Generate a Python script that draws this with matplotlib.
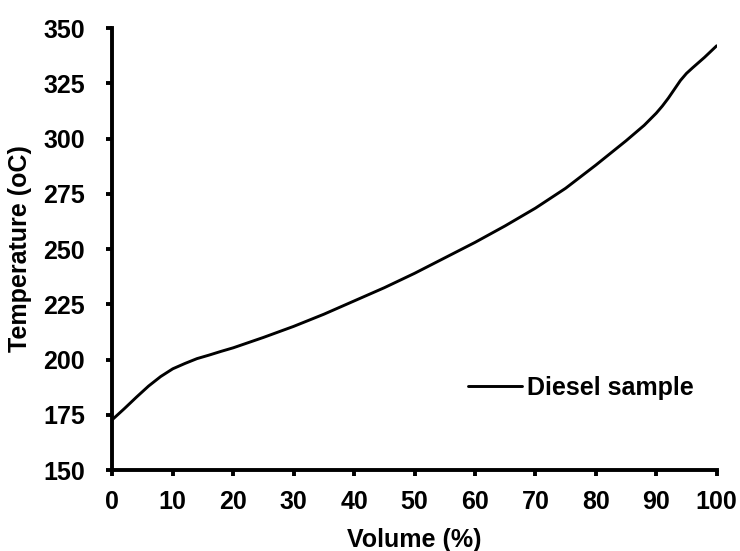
import matplotlib
matplotlib.use("Agg")
import matplotlib.pyplot as plt

plt.rcParams['font.family'] = ['Liberation Sans', 'DejaVu Sans']
plt.rcParams['font.weight'] = 'bold'

volume = [0, 2, 4, 6, 8, 10, 12, 14, 16, 18, 20, 25, 30, 35, 40, 45, 50, 55,
          60, 65, 70, 75, 80, 85, 88, 90, 91, 92, 93, 94, 95, 96, 98, 100]
temperature = [172.8, 177.8, 183, 188, 192.3, 195.8, 198.2, 200.4, 202, 203.7,
               205.3, 210, 215, 220.5, 226.5, 232.5, 239, 246, 253, 260.5,
               268.5, 277.5, 288, 299, 306, 311.5, 314.7, 318.3, 322.3,
               326.3, 329.5, 332, 336.8, 342]
x_ticks = [0, 10, 20, 30, 40, 50, 60, 70, 80, 90, 100]
y_ticks = [150, 175, 200, 225, 250, 275, 300, 325, 350]
series_label = "Diesel sample"

FS = 18
fig = plt.figure(figsize=(7.4, 5.51), dpi=100)
ax = fig.add_axes([0.1518, 0.147, 0.8167, 0.802])
ax.plot(volume, temperature, color='black', lw=2.1, label=series_label,
        solid_capstyle='round', solid_joinstyle='round')
ax.set_xlim(0, 100)
ax.set_ylim(150, 350)
ax.set_xticks(x_ticks)
ax.set_yticks(y_ticks)
for s in ['top', 'right']:
    ax.spines[s].set_visible(False)
for s in ['left', 'bottom']:
    ax.spines[s].set_linewidth(2.8)
    ax.spines[s].set_capstyle('projecting')
ax.tick_params(direction='out', length=4.5, width=2.8, labelsize=FS)
ax.tick_params(axis='x', pad=10)
ax.tick_params(axis='y', pad=15)
for lab in ax.get_xticklabels() + ax.get_yticklabels():
    lab.set_fontweight('bold')
ax.set_xlabel("Volume (%)", fontsize=FS, fontweight='bold', labelpad=10)
ax.set_ylabel("Temperature (oC)", fontsize=FS, fontweight='bold', labelpad=8)
ax.legend(loc='center left', bbox_to_anchor=(0.5885, 0.1855), frameon=False,
          handlelength=2.15, handletextpad=0.2,
          borderpad=0, borderaxespad=0, prop={'weight': 'bold', 'size': FS})
fig.savefig("out.png", dpi=100)
